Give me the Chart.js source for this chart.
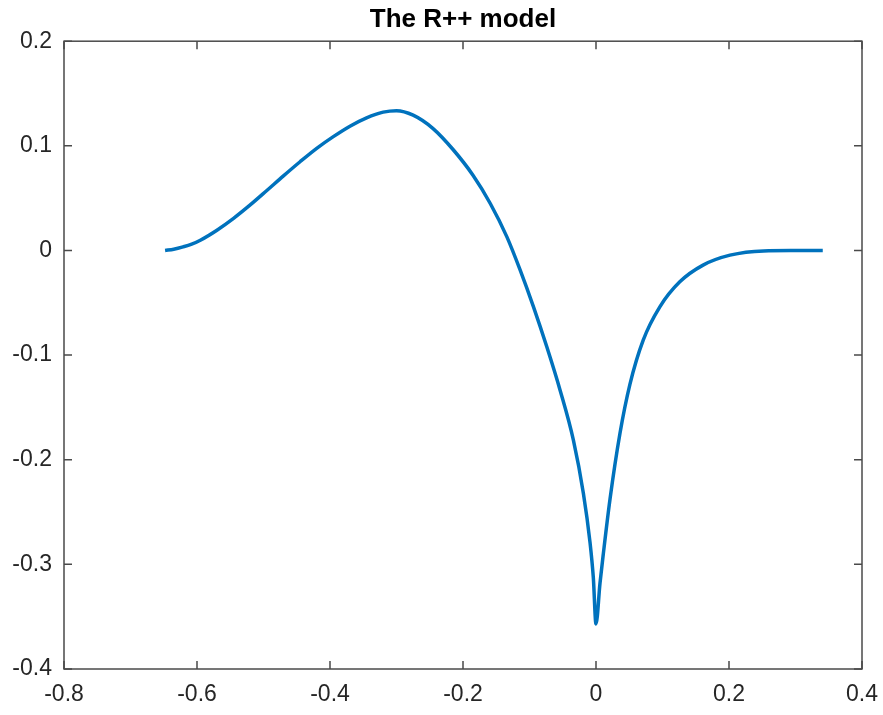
<!DOCTYPE html>
<html>
<head>
<meta charset="utf-8">
<script src="https://cdn.jsdelivr.net/npm/chart.js@4.4.1/dist/chart.umd.min.js"></script>
<style>
  html, body { margin: 0; padding: 0; background: #ffffff; }
  #wrap { width: 883px; height: 715px; }
</style>
</head>
<body>
<div id="wrap"><canvas id="c" width="883" height="715"></canvas></div>
<script>
// Curve samples of the R++ model
const xValues = [-0.648, -0.635, -0.621, -0.608, -0.595, -0.570, -0.545, -0.520, -0.495, -0.470,
                 -0.445, -0.420, -0.395, -0.370, -0.345, -0.320, -0.300, -0.275, -0.245, -0.215,
                 -0.185, -0.159, -0.134, -0.114, -0.094, -0.074, -0.054, -0.034, -0.019, -0.009,
                 -0.004, 0, 0.006, 0.011, 0.021, 0.036, 0.051, 0.071, 0.096, 0.126,
                 0.161, 0.2015, 0.252, 0.300, 0.341];
const yValues = [0, 0.0012, 0.0034, 0.006, 0.0098, 0.0194, 0.0307, 0.0435, 0.0573, 0.0713,
                 0.0848, 0.0976, 0.1088, 0.1188, 0.1268, 0.1322, 0.1336, 0.1293, 0.1165, 0.0965,
                 0.0719, 0.0449, 0.0130, -0.0188, -0.0539, -0.0921, -0.1335, -0.1812, -0.232, -0.279,
                 -0.313, -0.357, -0.318, -0.290, -0.238, -0.175, -0.128, -0.0857, -0.0539, -0.0300,
                 -0.0140, -0.0045, -0.0004, -0.0001, 0];

const xTicks = [-0.8, -0.6, -0.4, -0.2, 0, 0.2, 0.4];
const xTickLabels = ['-0.8', '-0.6', '-0.4', '-0.2', '0', '0.2', '0.4'];
const yTicks = [-0.4, -0.3, -0.2, -0.1, 0, 0.1, 0.2];
const yTickLabels = ['-0.4', '-0.3', '-0.2', '-0.1', '0', '0.1', '0.2'];

const titleText = 'The R++ model';

const points = xValues.map((x, i) => ({ x: x, y: yValues[i] }));

function labelFor(values, labels, v) {
  for (let i = 0; i < values.length; i++) {
    if (Math.abs(values[i] - v) < 1e-9) return labels[i];
  }
  return '';
}

// Box around the axes with inward tick marks on all four sides
const boxPlugin = {
  id: 'boxAxes',
  afterDraw(chart) {
    const { ctx, chartArea: a, scales } = chart;
    const xs = scales.x, ys = scales.y;
    const len = 8;
    ctx.save();
    ctx.strokeStyle = '#4a4a4a';
    ctx.lineWidth = 1.5;
    ctx.strokeRect(a.left, a.top, a.right - a.left, a.bottom - a.top);
    ctx.beginPath();
    xTicks.forEach(v => {
      const px = xs.getPixelForValue(v);
      ctx.moveTo(px, a.bottom); ctx.lineTo(px, a.bottom - len);
      ctx.moveTo(px, a.top); ctx.lineTo(px, a.top + len);
    });
    yTicks.forEach(v => {
      const py = ys.getPixelForValue(v);
      ctx.moveTo(a.left, py); ctx.lineTo(a.left + len, py);
      ctx.moveTo(a.right, py); ctx.lineTo(a.right - len, py);
    });
    ctx.stroke();
    ctx.restore();
  }
};

new Chart(document.getElementById('c'), {
  type: 'scatter',
  data: {
    datasets: [{
      data: points,
      showLine: true,
      borderColor: '#0072BD',
      backgroundColor: '#0072BD',
      borderWidth: 3.5,
      borderJoinStyle: 'round',
      borderCapStyle: 'butt',
      pointRadius: 0,
      cubicInterpolationMode: 'monotone'
    }]
  },
  options: {
    responsive: false,
    animation: false,
    layout: { padding: { left: 0, right: 21, top: 0, bottom: 0 } },
    plugins: {
      legend: { display: false },
      tooltip: { enabled: false },
      title: {
        display: true,
        text: titleText,
        fullSize: false,
        color: '#000000',
        font: { family: 'Liberation Sans, Arial, sans-serif', size: 26, weight: 'bold', lineHeight: 1.2 },
        padding: { top: 4, bottom: 6 }
      }
    },
    scales: {
      x: {
        type: 'linear',
        min: -0.8, max: 0.4,
        afterFit(s) { s.height = 46; s.paddingLeft = 0; s.paddingRight = 0; },
        afterBuildTicks(s) { s.ticks = xTicks.map(v => ({ value: v })); },
        grid: { display: false, drawTicks: false },
        border: { display: false },
        ticks: {
          color: '#262626',
          padding: 12,
          maxRotation: 0,
          autoSkip: false,
          font: { family: 'Liberation Sans, Arial, sans-serif', size: 23 },
          callback: v => labelFor(xTicks, xTickLabels, v)
        }
      },
      y: {
        type: 'linear',
        min: -0.4, max: 0.2,
        afterFit(s) { s.width = 64; s.paddingTop = 0; s.paddingBottom = 0; },
        afterBuildTicks(s) { s.ticks = yTicks.map(v => ({ value: v })); },
        grid: { display: false, drawTicks: false },
        border: { display: false },
        ticks: {
          color: '#262626',
          padding: 12,
          autoSkip: false,
          font: { family: 'Liberation Sans, Arial, sans-serif', size: 23 },
          callback: v => labelFor(yTicks, yTickLabels, v)
        }
      }
    }
  },
  plugins: [boxPlugin]
});
</script>
</body>
</html>
